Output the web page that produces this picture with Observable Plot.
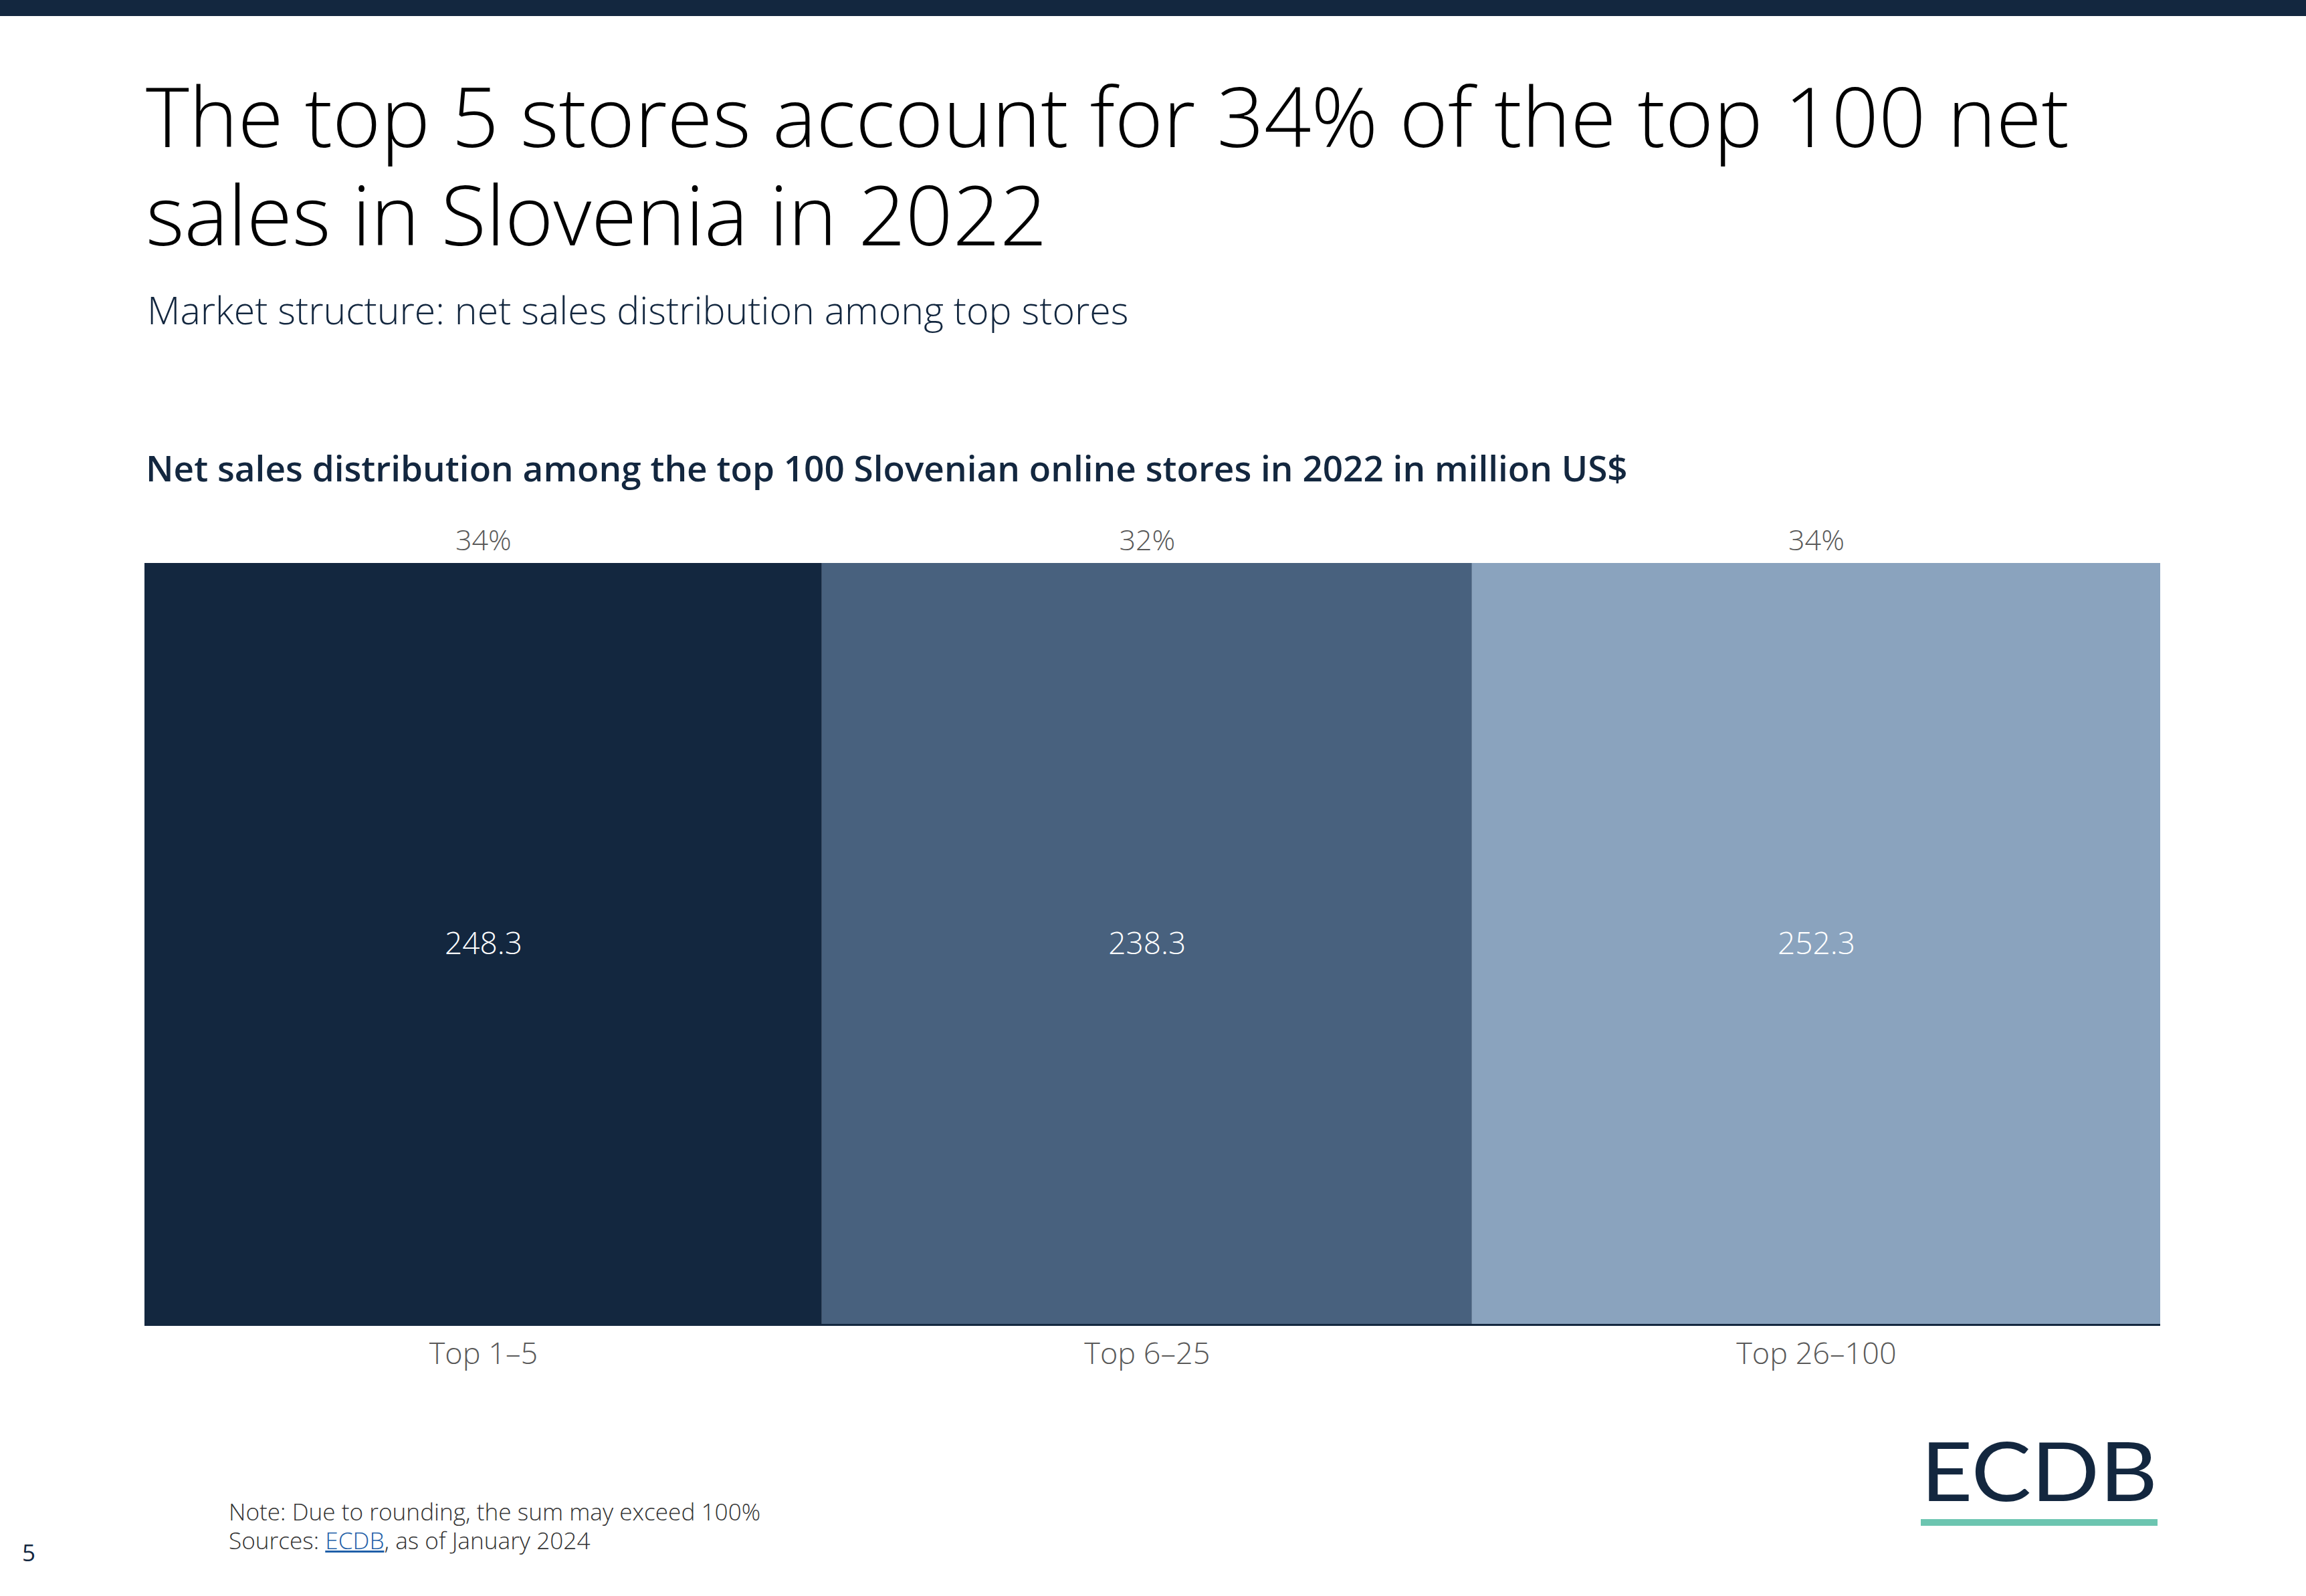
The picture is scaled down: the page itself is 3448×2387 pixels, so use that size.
<!DOCTYPE html>
<html>
<head>
<meta charset="utf-8">
<script src="https://cdn.jsdelivr.net/npm/d3@7"></script>
<script src="https://cdn.jsdelivr.net/npm/@observablehq/plot@0.6"></script>
<style>
  html, body { margin: 0; padding: 0; background: #fff; }
  body { width: 3448px; height: 2387px; position: relative; overflow: hidden; font-family: "Open Sans", sans-serif; }
  .abs { position: absolute; white-space: nowrap; }
  #topbar { position: absolute; left: 0; top: 0; width: 3448px; height: 24px; background: #13273f; }
  .title { left: 218px; font-size: 123.6px; line-height: 1; font-weight: 300; color: #000; }
  #title1 { top: 111px; }
  #title2 { top: 258px; }
  #subtitle { left: 220px; top: 435px; font-size: 57.3px; line-height: 1; font-weight: 300; color: #13273f; }
  #ctitle { left: 218px; top: 673px; font-size: 53.1px; line-height: 1; font-weight: 600; color: #13273f; }
  #chart { position: absolute; left: 0; top: 740px; }
  #footer { left: 342px; top: 2239px; font-size: 35.2px; line-height: 43px; font-weight: 300; color: #333; }
  #footer a { color: #1f5fa8; text-decoration: underline; }
  #page { left: 33px; top: 2304px; font-size: 35px; line-height: 1; color: #13273f; }
  #logo { position: absolute; left: 2822px; top: 2104px; overflow: visible; }
</style>
</head>
<body>
<div id="topbar"></div>
<div id="title1" class="abs title">The top 5 stores account for 34% of the top 100 net</div>
<div id="title2" class="abs title">sales in Slovenia in 2022</div>
<div id="subtitle" class="abs">Market structure: net sales distribution among top stores</div>
<div id="ctitle" class="abs">Net sales distribution among the top 100 Slovenian online stores in 2022 in million US$</div>
<div id="chart"></div>
<div id="footer" class="abs">Note: Due to rounding, the sum may exceed 100%<br>Sources: <a>ECDB</a>, as of January 2024</div>
<div id="page" class="abs">5</div>
<svg id="logo" width="520" height="260" viewBox="0 0 520 260">
  <text x="50" y="141" font-family="Lato, 'Noto Sans', sans-serif" font-size="122" font-weight="400" fill="#13273f" textLength="354" lengthAdjust="spacingAndGlyphs">ECDB</text>
  <rect x="50" y="168" width="354" height="10" fill="#6cc5b0"></rect>
</svg>
<script>
const categories = ["Top 1–5", "Top 6–25", "Top 26–100"];
const netSales = [248.3, 238.3, 252.3];
const shares = ["34%", "32%", "34%"];
const colors = ["#13273f", "#48617e", "#8aa3be"];

const rows = categories.map((c, i) => ({category: c, value: netSales[i], share: shares[i]}));

const chart = Plot.plot({
  width: 3448,
  height: 1361,
  marginLeft: 216,
  marginRight: 218,
  marginTop: 102,
  marginBottom: 120,
  x: {axis: null},
  y: {axis: null, domain: [0, 1]},
  color: {domain: categories, range: colors},
  style: {fontFamily: "Open Sans, sans-serif", background: "transparent"},
  marks: [
    Plot.rectX(rows, Plot.stackX({x: "value", y1: 0, y2: 1, fill: "category", order: null})),
    Plot.text(rows, Plot.stackX({x: "value", y: 1, text: "share", order: null, lineAnchor: "bottom", dy: -20, fontSize: 43, fontWeight: 300, fill: "#595959"})),
    Plot.text(rows, Plot.stackX({x: "value", y: 0.5, text: d => d.value.toFixed(1), order: null, lineAnchor: "middle", fontSize: 46, fontWeight: 300, fill: "#ffffff"})),
    Plot.text(rows, Plot.stackX({x: "value", y: 0, text: "category", order: null, lineAnchor: "bottom", dy: 58, fontSize: 45, fontWeight: 300, fill: "#595959"})),
    Plot.ruleY([0], {stroke: "#13273f", strokeWidth: 3})
  ]
});
document.getElementById("chart").appendChild(chart);
</script>
</body>
</html>
